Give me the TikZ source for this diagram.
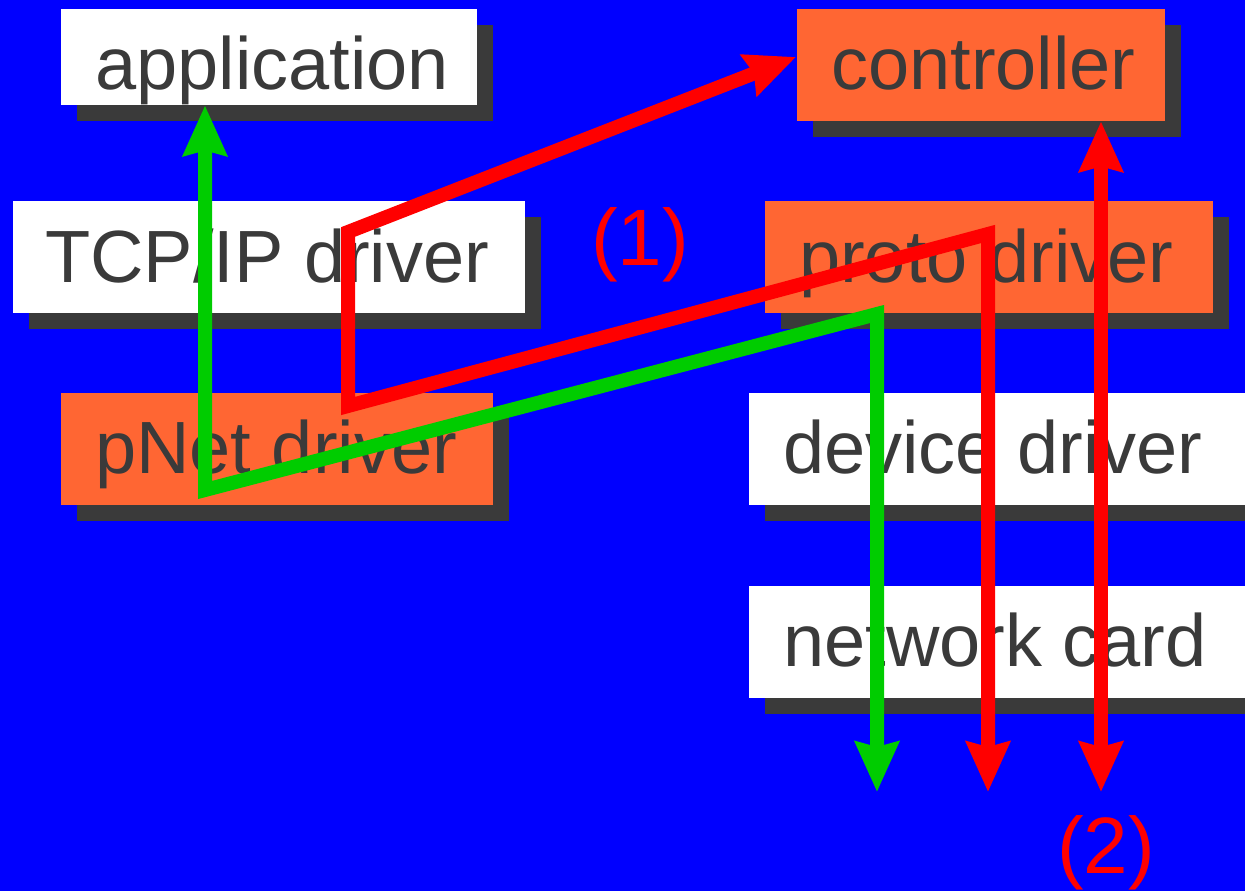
\documentclass[tikz,border=0pt]{standalone}
\usepackage{fontspec}
\setmainfont{Liberation Sans}
\usetikzlibrary{arrows.meta,shadows}
\definecolor{bg}{HTML}{0000FF}
\definecolor{org}{HTML}{FF6633}
\definecolor{shd}{HTML}{3A3A3A}
\definecolor{txt}{HTML}{3A3A3A}
\definecolor{grn}{HTML}{00CC00}
\definecolor{rd}{HTML}{FF0000}
\begin{document}
\begin{tikzpicture}[x=1pt,y=-1pt,
  box/.style={anchor=north west, inner sep=0pt, draw=none,
    drop shadow={shadow xshift=16pt, shadow yshift=-16pt, fill=shd, opacity=1}},
  wbox/.style={box, fill=white},
  obox/.style={box, fill=org},
  lbl/.style={anchor=base west, inner sep=0pt, text=txt, font=\fontsize{74}{88}\selectfont},
  num/.style={anchor=base, inner sep=0pt, text=rd, font=\fontsize{80}{96}\selectfont},
  >={Stealth[length=50pt, width=43pt, inset=5pt]},
  conn/.style={line width=14pt, <->}
]
\useasboundingbox (0,0) rectangle (1245,891);
\clip (0,0) rectangle (1245,891);
\fill[bg] (0,0) rectangle (1245,891);

% boxes
\node[wbox, minimum width=416pt, minimum height=96pt]  (app)   at (61,9)   {};
\node[obox, minimum width=368pt, minimum height=112pt] (ctrl)  at (797,9)  {};
\node[wbox, minimum width=512pt, minimum height=112pt] (tcp)   at (13,201) {};
\node[obox, minimum width=448pt, minimum height=112pt] (proto) at (765,201) {};
\node[obox, minimum width=432pt, minimum height=112pt] (pnet)  at (61,393) {};
\node[wbox, minimum width=520pt, minimum height=112pt] (dev)   at (749,393) {};
\node[wbox, minimum width=520pt, minimum height=112pt] (net)   at (749,586) {};

% texts
\node[lbl] (appT)   at (95,89)   {application};
\node[lbl] (ctrlT)  at (831,89)  {controller};
\node[lbl] (tcpT)   at (45,282)  {TCP/IP driver};
\node[lbl] (protoT) at (799,282) {proto driver};
\node[lbl] (pnetT)  at (95,473)  {pNet driver};
\node[lbl] (devT)   at (783,473) {device driver};
\node[lbl] (netT)   at (783,666) {network card};

\node[num] (one) at (640,265) {(1)};
\node[num] (two) at (1106,873) {(2)};

% connector points
\coordinate (gEnd) at (877,792);
\coordinate (g1) at (877,314);
\coordinate (g2) at (205,490);
\coordinate (rEnd) at (988,792);
\coordinate (r1) at (988,234);
\coordinate (r2) at (348,406);
\coordinate (r3) at (348,232);
\coordinate (rTip) at (796,57);
\coordinate (r2End) at (1101,792);

% connectors
\draw[conn, grn] (gEnd) -- (g1) -- (g2) -- (g2 |- app.south);
\draw[conn, rd] (rEnd) -- (r1) -- (r2) -- (r3) -- (rTip);
\draw[conn, rd] (ctrl.south -| r2End) -- (r2End);
\end{tikzpicture}
\end{document}
